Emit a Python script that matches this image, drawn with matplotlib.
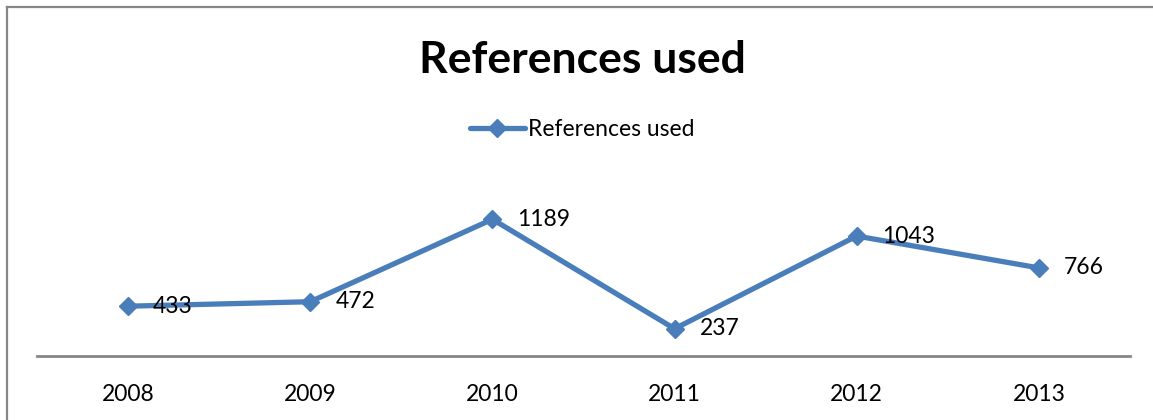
import matplotlib.pyplot as plt
from matplotlib.lines import Line2D

plt.rcParams['font.family'] = ['Lato', 'DejaVu Sans']

# data
years = ['2008', '2009', '2010', '2011', '2012', '2013']
refs = [433, 472, 1189, 237, 1043, 766]
series_name = 'References used'

blue = '#4A7EBB'

fig = plt.figure(figsize=(11.53, 4.20), dpi=100)
ax = fig.add_axes([37 / 1153, 64 / 420, (1130 - 37) / 1153, (356 - 195) / 420])

x = list(range(len(years)))
ax.plot(x, refs, color=blue, lw=3.8, marker='D', ms=9, mec=blue, mfc=blue,
        label=series_name, solid_capstyle='round', zorder=3)

for xi, v in zip(x, refs):
    ax.annotate(str(v), (xi, v), xytext=(18, 0), textcoords='offset points',
                ha='left', va='center', fontsize=16.5, color='black', zorder=4)

ax.set_xlim(-0.5, len(years) - 0.5)
ax.set_ylim(0, 1400)
ax.set_xticks(x)
ax.set_xticklabels(years, fontsize=16.5)
ax.set_yticks([])
ax.tick_params(axis='x', length=0, pad=20)
for s in ['top', 'right', 'left']:
    ax.spines[s].set_visible(False)
ax.spines['bottom'].set_color('#868686')
ax.spines['bottom'].set_linewidth(2)

fig.text(582 / 1153, 1 - 60 / 420, 'References used', ha='center', va='center',
         fontsize=32, fontweight='bold')

handle = Line2D([], [], color=blue, lw=3.8, marker='D', ms=9, solid_capstyle='round')
fig.legend([handle], [series_name], loc='center', bbox_to_anchor=(582 / 1153, 1 - 130 / 420),
           frameon=False, fontsize=16.5, handlelength=2.4, handletextpad=0.15)

# chart border (top and left visible)
fig.add_artist(Line2D([7 / 1153, 7 / 1153], [0, 1 - 7 / 420], color='#878787', lw=1.6))
fig.add_artist(Line2D([7 / 1153, 1], [1 - 7 / 420, 1 - 7 / 420], color='#878787', lw=1.6))

fig.savefig('out.png', dpi=100, facecolor='white')
